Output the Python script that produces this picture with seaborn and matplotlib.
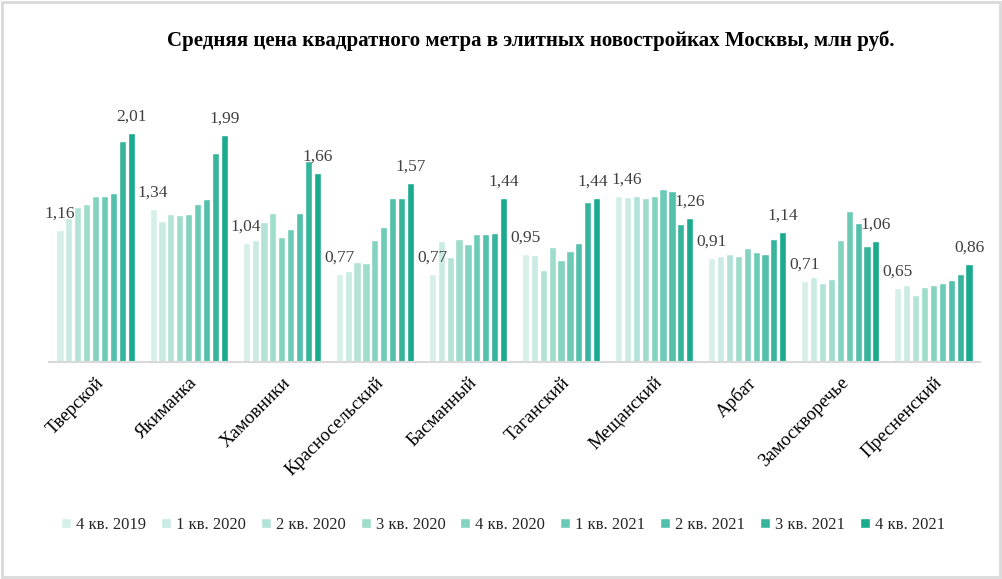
import matplotlib
matplotlib.use("Agg")
import matplotlib.pyplot as plt
import seaborn as sns
import pandas as pd
from matplotlib.patches import Rectangle

districts = ["Тверской", "Якиманка", "Хамовники", "Красносельский", "Басманный",
             "Таганский", "Мещанский", "Арбат", "Замоскворечье", "Пресненский"]
quarters = ["4 кв. 2019", "1 кв. 2020", "2 кв. 2020", "3 кв. 2020", "4 кв. 2020",
            "1 кв. 2021", "2 кв. 2021", "3 кв. 2021", "4 кв. 2021"]

q4_2019 = [1.16, 1.34, 1.04, 0.77, 0.77, 0.95, 1.46, 0.91, 0.71, 0.65]
q1_2020 = [1.26, 1.24, 1.07, 0.80, 1.06, 0.94, 1.45, 0.93, 0.74, 0.67]
q2_2020 = [1.36, 1.30, 1.23, 0.88, 0.92, 0.81, 1.46, 0.95, 0.69, 0.59]
q3_2020 = [1.39, 1.29, 1.31, 0.87, 1.08, 1.01, 1.44, 0.93, 0.73, 0.66]
q4_2020 = [1.46, 1.30, 1.10, 1.07, 1.03, 0.89, 1.46, 1.00, 1.07, 0.67]
q1_2021 = [1.46, 1.39, 1.17, 1.18, 1.12, 0.97, 1.52, 0.96, 1.32, 0.69]
q2_2021 = [1.48, 1.43, 1.31, 1.44, 1.12, 1.04, 1.50, 0.95, 1.22, 0.72]
q3_2021 = [1.94, 1.83, 1.76, 1.44, 1.13, 1.40, 1.21, 1.08, 1.02, 0.77]
q4_2021 = [2.01, 1.99, 1.66, 1.57, 1.44, 1.44, 1.26, 1.14, 1.06, 0.86]

series = [q4_2019, q1_2020, q2_2020, q3_2020, q4_2020, q1_2021, q2_2021, q3_2021, q4_2021]

colors = ["#d6efe9", "#c9ebe3", "#b3e3d8", "#9edccb", "#84d3c0",
          "#6ccbb6", "#52c0aa", "#36b49c", "#1aab8f"]

rows = []
for q, vals in zip(quarters, series):
    for d, v in zip(districts, vals):
        rows.append({"district": d, "quarter": q, "value": v})
df = pd.DataFrame(rows)

sns.set_theme(style="white")
plt.rcParams["font.family"] = ["Liberation Serif", "DejaVu Serif"]

fig = plt.figure(figsize=(10.03, 5.79), dpi=100)
ax = fig.add_axes([49 / 1003, 1 - 361.7 / 579, 931 / 1003, 250 / 579])

sns.barplot(data=df, x="district", y="value", hue="quarter", order=districts,
            hue_order=quarters, palette=colors, width=0.86, gap=0.2,
            saturation=1, ax=ax, legend=True)

ax.set_ylim(0, 250 / 113.8)
ax.set_xlim(-0.5, len(districts) - 0.5)
ax.set_xlabel("")
ax.set_ylabel("")
ax.set_yticks([])
for s in ["top", "left", "right"]:
    ax.spines[s].set_visible(False)
ax.spines["bottom"].set_color("#d9d9d9")
ax.spines["bottom"].set_linewidth(1.5)
ax.tick_params(axis="x", length=0, pad=9)
ax.set_xticks(range(len(districts)))
ax.set_xticklabels(districts, rotation=45, ha="right", rotation_mode="anchor",
                   fontsize=13.5, color="black")

def fmt(v):
    return f"{v:.2f}".replace(".", ",")

label_sets = {}
for idx in (0, len(quarters) - 1):
    cont = ax.containers[idx]
    label_sets[idx] = ax.bar_label(cont, labels=[fmt(v) for v in series[idx]],
                                   padding=6, fontsize=12.5, color="#404040")

# nudge the two neighbouring labels apart (Таганский last / Мещанский first)
t = label_sets[len(quarters) - 1][5]
t.xyann = (t.xyann[0] - 3, t.xyann[1])
t = label_sets[0][6]
t.xyann = (t.xyann[0] + 6, t.xyann[1])

handles, labels = ax.get_legend_handles_labels()
ax.legend_.remove()
fig.legend(handles, labels, loc="center", bbox_to_anchor=(503 / 1003, 1 - 525 / 579),
           ncol=9, frameon=False, fontsize=12, handlelength=0.6, handleheight=0.6,
           handletextpad=0.3, columnspacing=0.9)

fig.text(531 / 1003, 1 - 41 / 579,
         "Средняя цена квадратного метра в элитных новостройках Москвы, млн руб.",
         ha="center", va="center", fontsize=15, fontweight="bold", color="black")

fig.patches.append(Rectangle((0.002, 0.003), 0.995, 0.994, transform=fig.transFigure,
                             fill=False, edgecolor="#d9d9d9", linewidth=2))

fig.savefig("out.png", dpi=100, facecolor="white")
